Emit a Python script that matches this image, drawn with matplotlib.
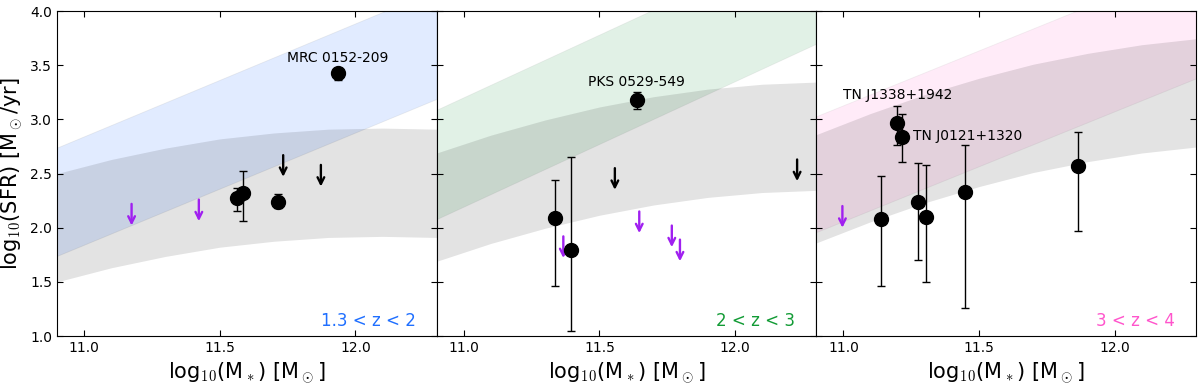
import matplotlib
matplotlib.use("Agg")
import matplotlib.pyplot as plt

plt.rcParams["mathtext.fontset"] = "cm"
plt.rcParams["font.family"] = ["DejaVu Sans"]

band_x = [10.9, 11.1, 11.3, 11.5, 11.7, 11.9, 12.1, 12.3]

# curved (grey) main-sequence band centres, width +/-0.5 dex
ms_centre = [
    [2.00, 2.13, 2.235, 2.32, 2.375, 2.41, 2.42, 2.41],
    [2.19, 2.355, 2.495, 2.615, 2.71, 2.78, 2.825, 2.845],
    [2.36, 2.555, 2.73, 2.88, 3.01, 3.11, 3.19, 3.245],
]
ms_halfwidth = 0.5

# straight coloured bands: edges at x=10.9 and x=12.3
lin_x = [10.9, 12.3]
lin_lower = [[1.74, 3.19], [2.08, 3.70], [1.96, 3.38]]
lin_upper = [[2.74, 4.20], [3.09, 4.71], [3.03, 4.45]]

# detections: mass, SFR, lower err, upper err
det_x = [
    [11.935, 11.563, 11.586, 11.715],
    [11.637, 11.336, 11.397],
    [11.197, 11.217, 11.137, 11.276, 11.306, 11.447, 11.866],
]
det_y = [
    [3.43, 2.27, 2.32, 2.24],
    [3.18, 2.09, 1.79],
    [2.97, 2.84, 2.08, 2.24, 2.10, 2.33, 2.57],
]
det_lo = [
    [0.07, 0.12, 0.26, 0.06],
    [0.08, 0.63, 0.74],
    [0.21, 0.23, 0.62, 0.54, 0.60, 1.07, 0.60],
]
det_hi = [
    [0.02, 0.10, 0.20, 0.07],
    [0.07, 0.35, 0.86],
    [0.15, 0.21, 0.40, 0.36, 0.48, 0.43, 0.31],
]

# upper limits (arrow tail at the limit)
ul_black_x = [[11.734, 11.873], [11.557, 12.229], []]
ul_black_y = [[2.67, 2.58], [2.55, 2.63], []]
ul_purple_x = [[11.175, 11.423], [11.367, 11.647, 11.767, 11.797], [10.996]]
ul_purple_y = [[2.22, 2.26], [1.92, 2.15, 2.02, 1.89], [2.20]]

labels = [
    [("MRC 0152-209", 11.935, 3.57, "center")],
    [("PKS 0529-549", 11.637, 3.35, "center")],
    [("TN J1338+1942", 11.0, 3.23, "left"), ("TN J0121+1320", 11.258, 2.85, "left")],
]

z_text = ["1.3 < z < 2", "2 < z < 3", "3 < z < 4"]
z_colors = ["#1f6fff", "#129b35", "#ff55cc"]
band_colors = ["#4d8cff", "#2ca050", "#ff66cc"]
band_alpha = [0.17, 0.14, 0.13]

fig, axes = plt.subplots(1, 3, figsize=(12, 3.84), dpi=100, sharey=True)
fig.subplots_adjust(left=0.0475, right=0.9967, top=0.971, bottom=0.125, wspace=0)

for i, ax in enumerate(axes):
    ax.fill_between(lin_x, lin_lower[i], lin_upper[i], color=band_colors[i],
                    alpha=band_alpha[i], edgecolor="#999999", linewidth=0.6, zorder=1)
    lo = [c - ms_halfwidth for c in ms_centre[i]]
    hi = [c + ms_halfwidth for c in ms_centre[i]]
    ax.fill_between(band_x, lo, hi, color="k", alpha=0.11, linewidth=0, zorder=2)

    ax.errorbar(det_x[i], det_y[i], yerr=[det_lo[i], det_hi[i]], fmt="o", color="k",
                markersize=10, elinewidth=1, capsize=3, capthick=1, zorder=5)

    for x, y in zip(ul_black_x[i], ul_black_y[i]):
        ax.annotate("", xy=(x, y - 0.2), xytext=(x, y),
                    arrowprops=dict(arrowstyle="->", color="k", lw=1.7,
                                    shrinkA=0, shrinkB=0, mutation_scale=12), zorder=4)
    for x, y in zip(ul_purple_x[i], ul_purple_y[i]):
        ax.annotate("", xy=(x, y - 0.2), xytext=(x, y),
                    arrowprops=dict(arrowstyle="->", color="#a020f0", lw=1.7,
                                    shrinkA=0, shrinkB=0, mutation_scale=12), zorder=4)

    for txt, x, y, ha in labels[i]:
        ax.text(x, y, txt, ha=ha, va="center", fontsize=10, zorder=6)

    ax.text(0.945, 0.046, z_text[i], transform=ax.transAxes, ha="right", va="center",
            fontsize=12, color=z_colors[i])

    ax.set_xlim(10.9, 12.3)
    ax.set_ylim(1.0, 4.0)
    ax.set_xticks([11.0, 11.5, 12.0])
    ax.set_xticklabels(["11.0", "11.5", "12.0"])
    ax.set_yticks([1.0, 1.5, 2.0, 2.5, 3.0, 3.5, 4.0])
    ax.tick_params(direction="in", top=True, right=True, labelsize=10, length=4.5)
    ax.set_xlabel(r"log$_{10}$(M$_*$) [M$_\odot$]", fontsize=15)

axes[0].set_yticklabels(["1.0", "1.5", "2.0", "2.5", "3.0", "3.5", "4.0"])
axes[0].set_ylabel(r"log$_{10}$(SFR) [M$_\odot$/yr]", fontsize=15)
for ax in axes[1:]:
    ax.tick_params(labelleft=False)

fig.savefig("out.png", dpi=100)
